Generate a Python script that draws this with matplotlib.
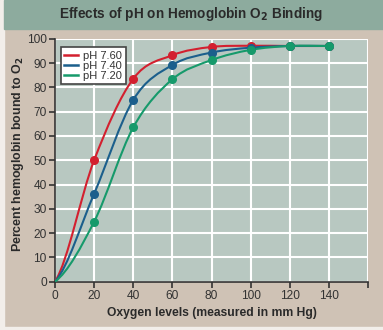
import matplotlib
matplotlib.use("Agg")
import numpy as np
import matplotlib.pyplot as plt
from matplotlib.path import Path
from matplotlib.patches import PathPatch, Rectangle
from matplotlib.lines import Line2D

oxygen = [20, 40, 60, 80, 100, 120, 140]
ph760 = [50, 83.5, 93.2, 96.6, 97.1, 97, 97]
ph740 = [36.2, 74.8, 89.2, 94.3, 96.3, 97, 97]
ph720 = [24.7, 63.5, 83.3, 91.2, 95.4, 97, 97]
labels = ["pH 7.60", "pH 7.40", "pH 7.20"]
colors = ["#d3202f", "#1b5f8c", "#169a6b"]

plt.rcParams['font.family'] = ['Liberation Sans', 'DejaVu Sans']


def smooth_path(xs, ys):
    # curve through the points, starting at the origin (Catmull-Rom as Bezier)
    pts = np.array([[0, 0]] + list(zip(xs, ys)), dtype=float)
    ext = np.vstack([[-20, 0], pts, pts[-1] + (pts[-1] - pts[-2])])
    verts = [tuple(pts[0])]
    codes = [Path.MOVETO]
    for i in range(1, len(ext) - 2):
        p0, p1, p2, p3 = ext[i - 1], ext[i], ext[i + 1], ext[i + 2]
        c1 = p1 + (p2 - p0) / 6
        c2 = p2 - (p3 - p1) / 6
        verts += [tuple(c1), tuple(c2), tuple(p2)]
        codes += [Path.CURVE4] * 3
    return Path(verts, codes)


fig = plt.figure(figsize=(3.83, 3.30), dpi=100)
fig.patch.set_facecolor("#cfc2b5")
fig.patches.append(Rectangle((0, 0), 4 / 383, 1, transform=fig.transFigure,
                             color="#f2eeea", zorder=0))
fig.patches.append(Rectangle((0, 0), 1, 3 / 330, transform=fig.transFigure,
                             color="#f2eeea", zorder=0))
fig.patches.append(Rectangle((4 / 383, 1 - 29 / 330), 1, 29 / 330,
                             transform=fig.transFigure, color="#8dab9e", zorder=0))
fig.text(0.499, 0.957, "Effects of pH on Hemoglobin O$_\\mathbf{2}$ Binding",
         ha="center", va="center", fontsize=9.8, fontweight="bold", color="#2a2a2a")

ax = fig.add_axes([55 / 383, 48.3 / 330, 313 / 383, 243 / 330])
ax.set_facecolor("#b8c8c1")

for ys, lab, c in zip([ph760, ph740, ph720], labels, colors):
    ax.add_patch(PathPatch(smooth_path(oxygen, ys), facecolor="none",
                           edgecolor=c, lw=1.5, zorder=3))
    ax.plot(oxygen, ys, "o", color=c, markersize=5.5, zorder=4)

ax.set_xlim(0, 160)
ax.set_ylim(0, 100)
ax.set_xticks(range(0, 161, 20))
ax.set_xticklabels([str(v) for v in range(0, 141, 20)] + [""])
ax.set_yticks(range(0, 101, 10))
ax.grid(True, color="white", lw=1.5, zorder=1)
ax.set_axisbelow(True)
for s in ["top", "right"]:
    ax.spines[s].set_visible(False)
for s in ["left", "bottom"]:
    ax.spines[s].set_color("#333333")
    ax.spines[s].set_linewidth(1.2)
ax.tick_params(direction="out", length=4, width=1.2, color="#333333",
               labelsize=8.6, labelcolor="#333333", pad=2)

handles = [Line2D([], [], color=c, lw=1.8) for c in colors]
leg = ax.legend(handles, labels, loc="upper left", fontsize=8,
                bbox_to_anchor=(0.0, 0.99), handlelength=1.2,
                handletextpad=0.5, labelspacing=0.0, borderpad=0.35,
                fancybox=False, framealpha=1)
leg.get_frame().set_edgecolor("#444444")
leg.get_frame().set_linewidth(1.2)
for t in leg.get_texts():
    t.set_color("#333333")

fig.text(0.554, 0.052, "Oxygen levels (measured in mm Hg)", ha="center",
         va="center", fontsize=8.7, fontweight="bold", color="#2a2a2a")
fig.text(0.047, 0.533, "Percent hemoglobin bound to O$_\\mathbf{2}$", ha="center",
         va="center", rotation=90, fontsize=8.9, fontweight="bold", color="#2a2a2a")

fig.savefig("out.png", dpi=100, facecolor=fig.get_facecolor())
